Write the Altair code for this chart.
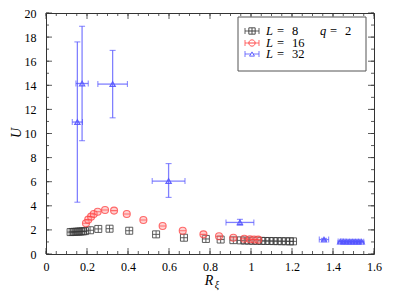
import altair as alt
import pandas as pd

# ---------------- data ----------------
r8 = [0.12, 0.13, 0.14, 0.15, 0.16, 0.17, 0.18, 0.19, 0.215, 0.255, 0.31, 0.406,
      0.537, 0.673, 0.78, 0.852, 0.914, 0.95, 0.97, 0.99, 1.01, 1.03, 1.05, 1.07,
      1.09, 1.11, 1.13, 1.15, 1.17, 1.19, 1.205]
u8 = [1.82, 1.83, 1.84, 1.85, 1.86, 1.87, 1.88, 1.9, 1.97, 2.08, 2.1, 1.93,
      1.63, 1.35, 1.25, 1.2, 1.15, 1.13, 1.12, 1.11, 1.1, 1.1, 1.09, 1.08,
      1.08, 1.07, 1.07, 1.06, 1.06, 1.05, 1.05]

r16 = [0.195, 0.206, 0.22, 0.233, 0.252, 0.288, 0.332, 0.394, 0.475, 0.569, 0.667,
       0.768, 0.844, 0.914, 0.967, 0.995, 1.015, 1.035]
u16 = [2.55, 2.85, 3.1, 3.32, 3.5, 3.65, 3.6, 3.32, 2.82, 2.32, 1.93,
       1.63, 1.47, 1.35, 1.27, 1.22, 1.2, 1.19]

r32 = [0.153, 0.176, 0.325, 0.598, 0.946, 1.356, 1.435, 1.45, 1.465, 1.48, 1.495,
       1.51, 1.525, 1.54]
u32 = [10.95, 14.15, 14.1, 6.05, 2.62, 1.2, 1.03, 1.03, 1.02, 1.02, 1.02,
       1.02, 1.02, 1.02]
r32_err = [0.025, 0.03, 0.072, 0.08, 0.068, 0.023, 0.01, 0.01, 0.01, 0.01, 0.01,
           0.01, 0.01, 0.01]
u32_lo = [4.3, 9.4, 11.3, 4.7, 2.4, 1.1, 0.98, 0.98, 0.97, 0.97, 0.97, 0.97, 0.97, 0.97]
u32_hi = [17.6, 18.9, 16.9, 7.5, 2.88, 1.3, 1.08, 1.08, 1.07, 1.07, 1.07, 1.07, 1.07, 1.07]

x_major = [0, 0.2, 0.4, 0.6, 0.8, 1.0, 1.2, 1.4, 1.6]
x_minor = [i * 0.05 for i in range(33)]
y_major = [0, 2, 4, 6, 8, 10, 12, 14, 16, 18, 20]
y_minor = list(range(21))

legend_labels = ["8", "16", "32"]

# ---------------- styling ----------------
W, H = 328, 241
FONT = "Liberation Serif"
FRAME = "#333333"
BLACK = "#3a3a3a"
RED = "#ff4444"
BLUE = "#5555ff"

SQ_CROSS = "M-1,-1L1,-1L1,1L-1,1ZM-1,0L1,0M0,-1L0,1"
CIRC_LINE = "M-1,0A1,1,0,1,1,1,0A1,1,0,1,1,-1,0ZM-1,0L1,0"

xs = alt.Scale(domain=[0, 1.6], nice=False, zero=False)
ys = alt.Scale(domain=[0, 20], nice=False, zero=False)
xaxis = alt.Axis(values=x_major, ticks=False, domain=False, grid=False, format="~g",
                 labelFont=FONT, labelFontSize=12, labelColor="black", labelPadding=7,
                 labelFlush=False, labelOverlap=False, title=None)
yaxis = alt.Axis(values=y_major, ticks=False, domain=False, grid=False, format="~g",
                 labelFont=FONT, labelFontSize=12, labelColor="black", labelPadding=10,
                 labelFlush=False, labelOverlap=False, title=None)


def X(f):
    return alt.X(f, type="quantitative", scale=xs, axis=xaxis)


def Y(f):
    return alt.Y(f, type="quantitative", scale=ys, axis=yaxis)


d8 = pd.DataFrame({"r": r8, "u": u8})
d16 = pd.DataFrame({"r": r16, "u": u16})
d32 = pd.DataFrame({"r": r32, "u": u32, "rlo": [a - b for a, b in zip(r32, r32_err)],
                    "rhi": [a + b for a, b in zip(r32, r32_err)],
                    "ulo": u32_lo, "uhi": u32_hi})

layers = []

# blue error bars
base32 = alt.Chart(d32)
layers.append(base32.mark_rule(color=BLUE, strokeWidth=1.3, opacity=0.75).encode(
    x=X("r"), y=Y("ulo"), y2="uhi"))
layers.append(base32.mark_rule(color=BLUE, strokeWidth=1.3, opacity=0.75).encode(
    x=X("rlo"), x2="rhi", y=Y("u")))
layers.append(base32.mark_tick(color=BLUE, orient="horizontal", size=6, thickness=1, opacity=0.75).encode(
    x=X("r"), y=Y("ulo")))
layers.append(base32.mark_tick(color=BLUE, orient="horizontal", size=6, thickness=1, opacity=0.75).encode(
    x=X("r"), y=Y("uhi")))
layers.append(base32.mark_tick(color=BLUE, orient="vertical", size=6, thickness=1, opacity=0.75).encode(
    x=X("rlo"), y=Y("u")))
layers.append(base32.mark_tick(color=BLUE, orient="vertical", size=6, thickness=1, opacity=0.75).encode(
    x=X("rhi"), y=Y("u")))

# points
layers.append(alt.Chart(d8).mark_point(shape=SQ_CROSS, size=49, filled=False, color=BLACK,
                                       strokeWidth=0.9, opacity=0.9).encode(x=X("r"), y=Y("u")))
layers.append(alt.Chart(d16).mark_point(shape=CIRC_LINE, size=49, filled=False, stroke=RED,
                                        fill="#ff9a9a", fillOpacity=0.55,
                                        strokeWidth=1.1, opacity=0.8).encode(x=X("r"), y=Y("u")))
layers.append(base32.mark_point(shape="triangle-up", size=28, filled=False, color=BLUE,
                                strokeWidth=1.2, opacity=0.9).encode(x=X("r"), y=Y("u")))

# ticks (inward, mirrored)
dxM = pd.DataFrame({"v": x_major})
dxm = pd.DataFrame({"v": x_minor})
dyM = pd.DataFrame({"v": y_major})
dym = pd.DataFrame({"v": y_minor})
for df, ln in [(dxM, 6), (dxm, 3)]:
    layers.append(alt.Chart(df).mark_rule(color=FRAME, strokeWidth=0.8).encode(
        x=X("v"), y=alt.value(H), y2=alt.value(H - ln)))
    layers.append(alt.Chart(df).mark_rule(color=FRAME, strokeWidth=0.8).encode(
        x=X("v"), y=alt.value(0), y2=alt.value(ln)))
for df, ln in [(dyM, 6), (dym, 3)]:
    layers.append(alt.Chart(df).mark_rule(color=FRAME, strokeWidth=0.8).encode(
        y=Y("v"), x=alt.value(0), x2=alt.value(ln)))
    layers.append(alt.Chart(df).mark_rule(color=FRAME, strokeWidth=0.8).encode(
        y=Y("v"), x=alt.value(W), x2=alt.value(W - ln)))

one = pd.DataFrame({"a": [0]})


def txt(t, x, y, size=14, italic=False, align="left", angle=0):
    kw = dict(text=t, font=FONT, fontSize=size, align=align, baseline="middle", color="black")
    if italic:
        kw["fontStyle"] = "italic"
    if angle:
        kw["angle"] = angle
    return alt.Chart(one).mark_text(**kw).encode(x=alt.value(x), y=alt.value(y))


# legend
layers.append(alt.Chart(one).mark_rect(fill="white", stroke="#555555", strokeWidth=1).encode(
    x=alt.value(192), x2=alt.value(320), y=alt.value(4), y2=alt.value(58)))
rows = [18, 30, 41]
cols = [BLACK, RED, BLUE]
shapes = [SQ_CROSS, CIRC_LINE, "triangle-up"]
sizes = [40, 40, 24]
for lab, ry, c, sh, sz in zip(legend_labels, rows, cols, shapes, sizes):
    layers.append(alt.Chart(one).mark_rule(color=c, strokeWidth=1, opacity=0.8).encode(
        x=alt.value(199), x2=alt.value(213), y=alt.value(ry)))
    for xx in (199, 213):
        layers.append(alt.Chart(one).mark_rule(color=c, strokeWidth=1, opacity=0.8).encode(
            x=alt.value(xx), y=alt.value(ry - 3), y2=alt.value(ry + 3)))
    layers.append(alt.Chart(one).mark_point(shape=sh, size=sz, filled=False, color=c, fill="white",
                                            fillOpacity=1, strokeWidth=1, opacity=0.9).encode(
        x=alt.value(206), y=alt.value(ry)))
    layers.append(txt("L", 220, ry, size=12.5, italic=True))
    layers.append(txt("=", 231, ry, size=12.5))
    layers.append(txt(lab, 246, ry, size=12.5))
layers.append(txt("q", 274, 18, size=12.5, italic=True))
layers.append(txt("=", 284, 18, size=12.5))
layers.append(txt("2", 299, 18, size=12.5))

# axis titles
layers.append(txt("U", -29, 120, italic=True, align="center", angle=270))
layers.append(txt("R", 163, 268, italic=True, align="center"))
layers.append(txt("ξ", 171, 272, size=10, italic=True, align="center"))

chart = alt.layer(*layers).properties(
    width=W, height=H,
    autosize=alt.AutoSizeParams(type="none"),
    padding={"left": 38, "top": 5, "right": 13, "bottom": 40},
).configure_view(stroke=FRAME, strokeWidth=1).configure_axis(
    labelFont=FONT).configure_text(font=FONT)

chart.save("out.html", embed_options={"renderer": "svg", "actions": False})
